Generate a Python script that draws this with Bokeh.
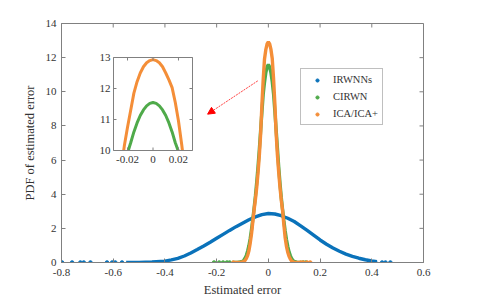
import math
from bokeh.plotting import figure
from bokeh.models import (Range1d, FixedTicker, CustomJSTickFormatter,
                          Legend, LegendItem, Arrow, NormalHead)
from bokeh.core.properties import value
from bokeh.embed import file_html
from bokeh.resources import INLINE

# ---------------- data ----------------
blue_x = [-0.55, -0.5, -0.45, -0.4, -0.375, -0.35, -0.325, -0.3, -0.275, -0.25, -0.225,
          -0.2, -0.175, -0.15, -0.125, -0.1, -0.075, -0.05, -0.025, 0.0, 0.025, 0.05,
          0.075, 0.1, 0.125, 0.15, 0.175, 0.2, 0.225, 0.25, 0.275, 0.3, 0.325, 0.35,
          0.375, 0.4, 0.42]
blue_y = [0.0, 0.01, 0.03, 0.08, 0.15, 0.24, 0.38, 0.56, 0.76, 0.97, 1.19,
          1.42, 1.65, 1.88, 2.1, 2.3, 2.5, 2.67, 2.8, 2.87, 2.84, 2.74,
          2.59, 2.4, 2.15, 1.88, 1.6, 1.32, 1.07, 0.85, 0.66, 0.49, 0.36, 0.25,
          0.16, 0.09, 0.05]
blue_tail_x = [-0.798, -0.759, -0.727, -0.714, -0.688, -0.624, -0.604, -0.592, -0.566,
               0.414, 0.44, 0.453, 0.472]
blue_tail_y = [0.0] * len(blue_tail_x)

green_x = [-0.14, -0.12, -0.11, -0.1, -0.095, -0.09, -0.085, -0.08, -0.075, -0.07, -0.065,
           -0.06, -0.055, -0.05, -0.045, -0.04, -0.035, -0.03, -0.025, -0.02, -0.015,
           -0.01, -0.005, 0.0, 0.005, 0.01, 0.015, 0.02, 0.025, 0.03, 0.035, 0.04,
           0.045, 0.05, 0.055, 0.06, 0.065, 0.07, 0.075, 0.08, 0.085, 0.09, 0.095,
           0.1, 0.11, 0.12, 0.13]
green_y = [0.0, 0.01, 0.03, 0.07, 0.13, 0.25, 0.42, 0.68, 1.0, 1.42, 1.95,
           2.55, 3.2, 3.9, 4.7, 5.6, 6.6, 7.7, 8.8, 9.85, 10.55,
           11.1, 11.45, 11.6, 11.45, 11.12, 10.6, 9.9, 8.9, 7.8, 6.7, 5.6,
           4.65, 3.8, 3.1, 2.45, 1.85, 1.35, 0.95, 0.62, 0.4, 0.23, 0.12,
           0.06, 0.02, 0.0, 0.0]
green_tail_x = [-0.21, -0.19, -0.175, -0.16, -0.15, 0.135, 0.145]
green_tail_y = [0.0] * len(green_tail_x)

orange_x = [-0.13, -0.12, -0.11, -0.1, -0.095, -0.09, -0.085, -0.08, -0.075, -0.07, -0.065,
            -0.06, -0.055, -0.05, -0.045, -0.04, -0.035, -0.03, -0.025, -0.02, -0.015,
            -0.01, -0.005, 0.0, 0.005, 0.01, 0.015, 0.02, 0.025, 0.03, 0.035, 0.04,
            0.045, 0.05, 0.055, 0.06, 0.065, 0.07, 0.075, 0.08, 0.085, 0.09, 0.095,
            0.1, 0.11, 0.12]
orange_y = [0.0, 0.0, 0.01, 0.03, 0.06, 0.12, 0.24, 0.42, 0.7, 1.15, 1.7,
            2.4, 3.1, 3.7, 4.4, 5.25, 6.25, 7.5, 9.2, 10.7, 11.9,
            12.45, 12.8, 12.92, 12.8, 12.48, 11.95, 10.8, 9.35, 7.6, 6.3, 5.3,
            4.4, 3.65, 3.05, 2.2, 1.45, 0.95, 0.6, 0.36, 0.2, 0.09, 0.04,
            0.01, 0.0, 0.0]
orange_tail_x = [-0.135, 0.125, 0.135, 0.15, 0.162]
orange_tail_y = [0.0] * len(orange_tail_x)

# inset (zoom of the peaks)
inset_orange_x = [-0.023, -0.0225, -0.02, -0.0175, -0.015, -0.0125, -0.01, -0.0075, -0.005,
                  -0.0025, 0.0, 0.0025, 0.005, 0.0075, 0.01, 0.0125, 0.015, 0.0175, 0.02,
                  0.0225, 0.0231]
inset_orange_y = [10.0, 10.15, 10.75, 11.3, 11.85, 12.22, 12.5, 12.7, 12.83,
                  12.9, 12.93, 12.9, 12.83, 12.7, 12.5, 12.28, 12.03, 11.55, 10.95,
                  10.2, 10.0]
inset_green_x = [-0.0194, -0.0175, -0.015, -0.0125, -0.01, -0.0075, -0.005, -0.0025, 0.0,
                 0.0025, 0.005, 0.0075, 0.01, 0.0125, 0.015, 0.0175, 0.0197]
inset_green_y = [10.0, 10.25, 10.6, 10.89, 11.13, 11.31, 11.44, 11.52, 11.55,
                 11.52, 11.44, 11.31, 11.13, 10.89, 10.6, 10.25, 10.0]

series_labels = ["IRWNNs", "CIRWN", "ICA/ICA+"]
X_LABEL = "Estimated error"
Y_LABEL = "PDF of estimated error"

X_RANGE = (-0.8, 0.6)
Y_RANGE = (0, 14)
X_TICKS = [-0.8, -0.6, -0.4, -0.2, 0, 0.2, 0.4, 0.6]
Y_TICKS = [0, 2, 4, 6, 8, 10, 12, 14]

INSET_XLIM = (-0.031, 0.031)
INSET_YLIM = (10, 13)
INSET_XTICKS = [-0.02, 0, 0.02]
INSET_XLABELS = ["-0.02", "0", "0.02"]
INSET_YTICKS = [10, 11, 12, 13]
INSET_YLABELS = ["10", "11", "12", "13"]

# ---------------- styling / layout ----------------
FONT = "Liberation Serif"
GRAY = "#808080"
TXT = "#333333"
BLUE = "#0A72BA"
GREEN = "#4FAA4A"
ORANGE = "#F48E38"

FRAME_W, FRAME_H = 362, 239
BL, BT, BR, BB = 61, 23, 60, 38
# inset box in frame pixels (from frame left / frame bottom)
IN_L, IN_W = 52, 79
IN_B, IN_H = 112, 93
TICK = 4

p = figure(frame_width=FRAME_W, frame_height=FRAME_H,
           x_range=Range1d(*X_RANGE), y_range=Range1d(*Y_RANGE),
           output_backend="svg", toolbar_location=None,
           min_border_left=BL, min_border_right=BR, min_border_top=BT, min_border_bottom=BB,
           x_axis_label=X_LABEL, y_axis_label=Y_LABEL)
p.xgrid.visible = False
p.ygrid.visible = False
p.outline_line_color = GRAY
p.background_fill_color = "white"
p.border_fill_color = "white"

fmt = CustomJSTickFormatter(code="return String(Math.round(tick*10)/10);")

def style_axis(ax, ticks):
    ax.ticker = FixedTicker(ticks=ticks)
    ax.axis_line_color = GRAY
    ax.major_tick_line_color = GRAY
    ax.major_tick_in = TICK
    ax.major_tick_out = 0
    ax.minor_tick_line_color = None
    ax.major_label_text_font = FONT
    ax.major_label_text_color = TXT
    ax.major_label_text_font_size = "11px"
    ax.axis_label_text_font = FONT
    ax.axis_label_text_font_style = "normal"
    ax.axis_label_text_color = TXT
    ax.axis_label_text_font_size = "12.5px"

xa = p.xaxis[0]
style_axis(xa, X_TICKS)
xa.formatter = fmt
xa.major_label_standoff = 6
xa.axis_label_standoff = 4
ya = p.yaxis[0]
style_axis(ya, Y_TICKS)
ya.major_label_standoff = 5
ya.axis_label_standoff = 6

# inward ticks on the top and right edges of the box
p.ray(x=X_TICKS, y=[Y_RANGE[1]] * len(X_TICKS), length=TICK, length_units="screen",
      angle=-math.pi / 2, line_color=GRAY)
p.ray(x=[X_RANGE[1]] * len(Y_TICKS), y=Y_TICKS, length=TICK, length_units="screen",
      angle=math.pi, line_color=GRAY)

# ---------------- main curves ----------------
LW = 3.4
p.line(blue_x, blue_y, line_color=BLUE, line_width=LW)
r_blue = p.scatter(blue_tail_x, blue_tail_y, size=3.6, color=BLUE)
p.line(green_x, green_y, line_color=GREEN, line_width=LW)
r_green = p.scatter(green_tail_x, green_tail_y, size=3.6, color=GREEN)
p.line(orange_x, orange_y, line_color=ORANGE, line_width=LW)
r_orange = p.scatter(orange_tail_x, orange_tail_y, size=3.6, color=ORANGE)

# ---------------- inset drawn on extra ranges ----------------
sx = (INSET_XLIM[1] - INSET_XLIM[0]) / IN_W
sy = (INSET_YLIM[1] - INSET_YLIM[0]) / IN_H
ix0 = INSET_XLIM[0] - IN_L * sx
iy0 = INSET_YLIM[0] - IN_B * sy
p.extra_x_ranges = {"ix": Range1d(ix0, ix0 + FRAME_W * sx)}
p.extra_y_ranges = {"iy": Range1d(iy0, iy0 + FRAME_H * sy)}
kw = dict(x_range_name="ix", y_range_name="iy")

p.quad(left=[INSET_XLIM[0]], right=[INSET_XLIM[1]], bottom=[INSET_YLIM[0]], top=[INSET_YLIM[1]],
       fill_color="white", line_color=None, **kw)
p.line(inset_green_x, inset_green_y, line_color=GREEN, line_width=3, **kw)
p.line(inset_orange_x, inset_orange_y, line_color=ORANGE, line_width=3, **kw)
p.quad(left=[INSET_XLIM[0]], right=[INSET_XLIM[1]], bottom=[INSET_YLIM[0]], top=[INSET_YLIM[1]],
       fill_color=None, line_color=GRAY, line_width=1, **kw)

nx = len(INSET_XTICKS)
ny = len(INSET_YTICKS)
p.ray(x=INSET_XTICKS, y=[INSET_YLIM[0]] * nx, length=3, length_units="screen",
      angle=math.pi / 2, line_color=GRAY, **kw)
p.ray(x=INSET_XTICKS, y=[INSET_YLIM[1]] * nx, length=3, length_units="screen",
      angle=-math.pi / 2, line_color=GRAY, **kw)
p.ray(x=[INSET_XLIM[0]] * ny, y=INSET_YTICKS, length=3, length_units="screen",
      angle=0, line_color=GRAY, **kw)
p.ray(x=[INSET_XLIM[1]] * ny, y=INSET_YTICKS, length=3, length_units="screen",
      angle=math.pi, line_color=GRAY, **kw)

p.text(x=INSET_XTICKS, y=[INSET_YLIM[0]] * nx, text=INSET_XLABELS, text_align="center",
       text_baseline="top", y_offset=5, text_font=value(FONT), text_font_size="11px",
       text_color=TXT, **kw)
p.text(x=[INSET_XLIM[0]] * ny, y=INSET_YTICKS, text=INSET_YLABELS, text_align="right",
       text_baseline="middle", x_offset=-3, text_font=value(FONT), text_font_size="11px",
       text_color=TXT, **kw)

# ---------------- arrow ----------------
ARROW_START = (-0.041, 10.64)
ARROW_END = (-0.235, 8.69)
p.add_layout(Arrow(end=NormalHead(size=7, fill_color="red", line_color="red", line_width=1),
                   x_start=ARROW_START[0], y_start=ARROW_START[1],
                   x_end=ARROW_END[0], y_end=ARROW_END[1],
                   line_color="red", line_width=1, line_dash="2 1", line_alpha=0.75))

# ---------------- legend ----------------
legend = Legend(items=[LegendItem(label=series_labels[0], renderers=[r_blue]),
                       LegendItem(label=series_labels[1], renderers=[r_green]),
                       LegendItem(label=series_labels[2], renderers=[r_orange])],
                location=(239, 137))
legend.glyph_width = 24
legend.glyph_height = 8
legend.label_height = 13
legend.spacing = 4
legend.padding = 4
legend.margin = 0
legend.label_standoff = 4
legend.label_text_font = FONT
legend.label_text_font_size = "10.5px"
legend.label_text_color = TXT
legend.border_line_color = GRAY
legend.border_line_width = 1
legend.background_fill_color = "white"
legend.background_fill_alpha = 1.0
p.add_layout(legend)

open("out.html", "w").write(file_html(p, INLINE))
